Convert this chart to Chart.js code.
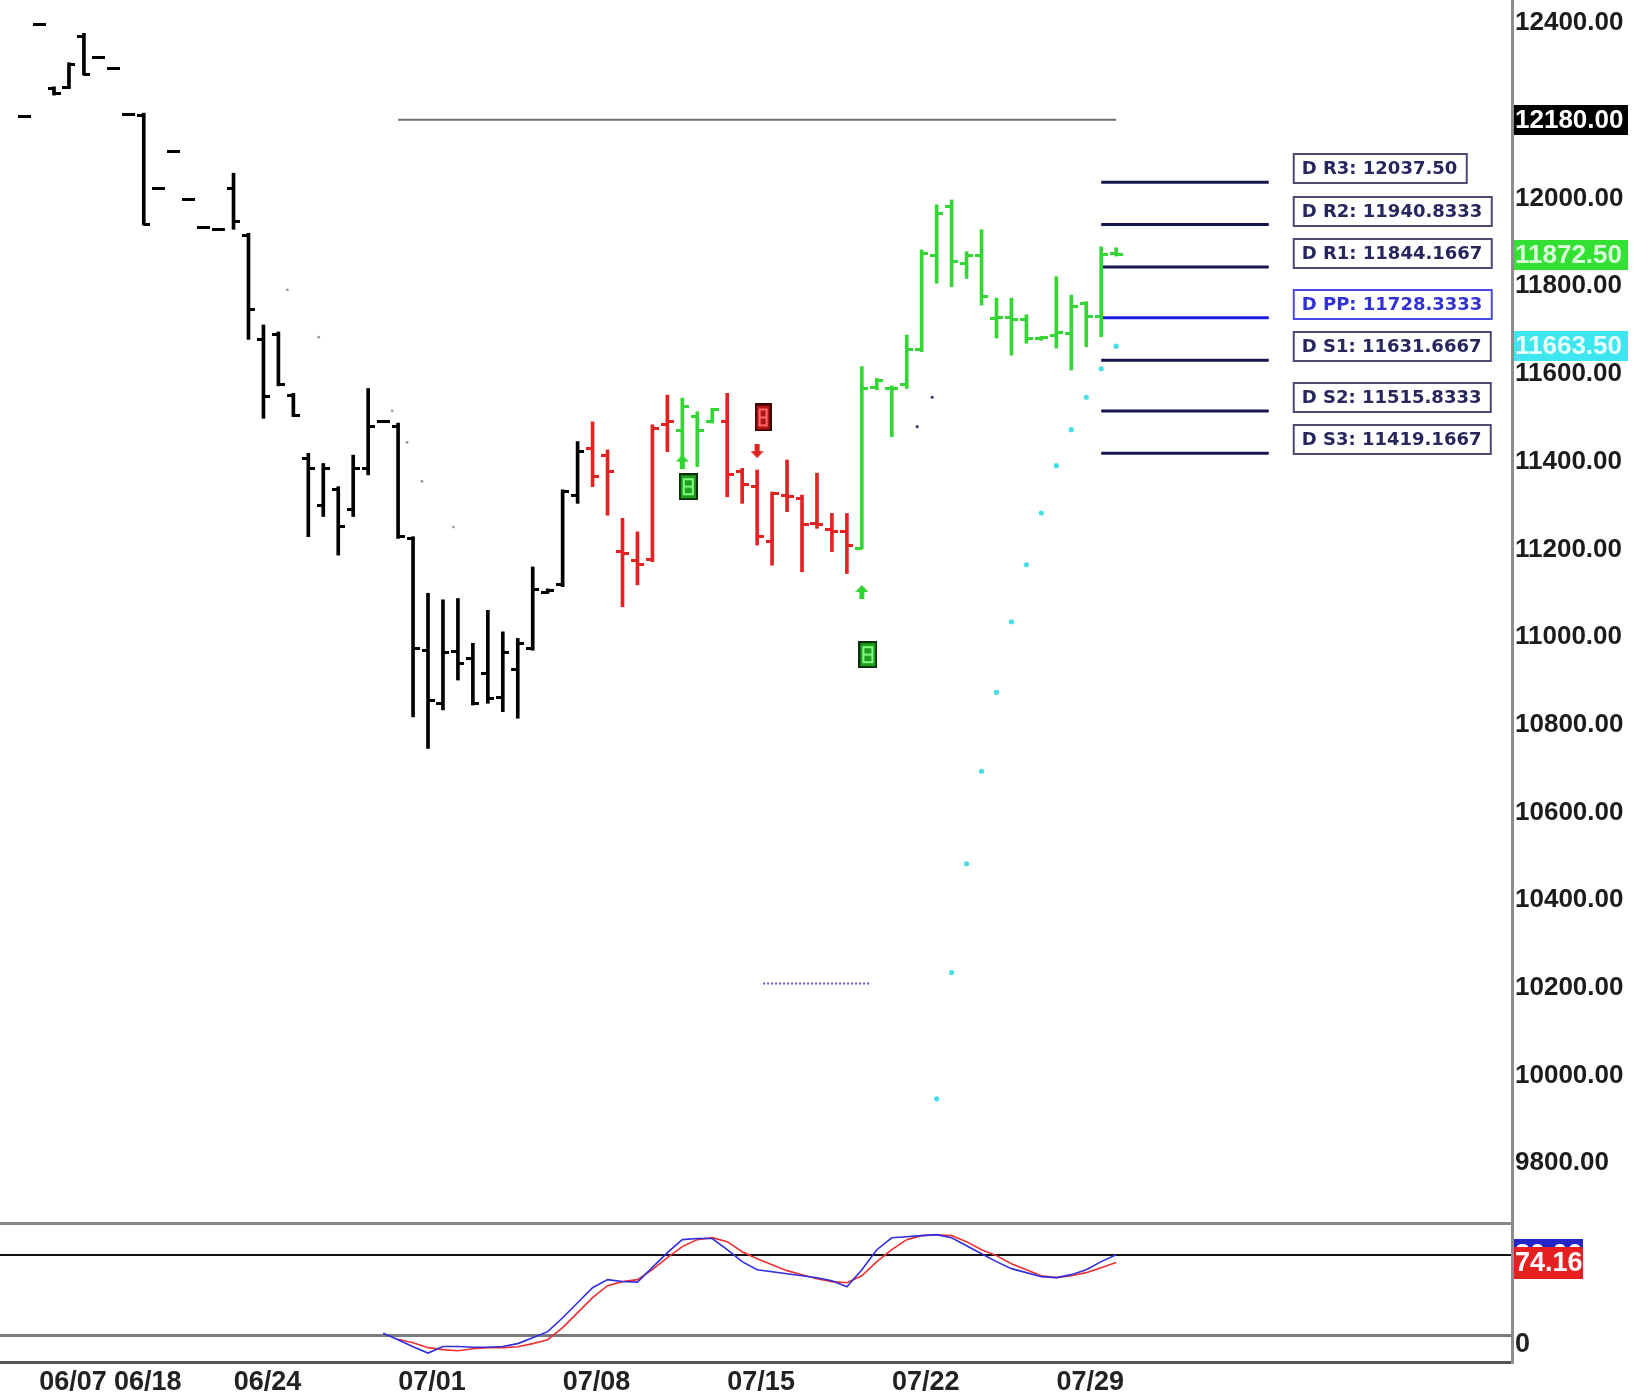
<!DOCTYPE html>
<html>
<head>
<meta charset="utf-8">
<script src="https://cdn.jsdelivr.net/npm/chart.js@4.4.1/dist/chart.umd.min.js"></script>
<style>
  html, body { margin: 0; padding: 0; background: #fff; }
  #wrap { position: relative; width: 1652px; height: 1393px; overflow: hidden; }
  #price { position: absolute; left: 0; top: 0; }
  #stoch { position: absolute; left: 0; top: 1222px; }
</style>
</head>
<body>
<div id="wrap">
  <canvas id="price" width="1652" height="1222"></canvas>
  <canvas id="stoch" width="1652" height="171"></canvas>
</div>
<script>
// ---- price bars (index 0..73) ----
const openVals  = [12188, 12396, 12252, 12254, 12370, 12322, 12297, 12192, 12190, 12022,
                   12107, 11998, 11935, 11930, 12023, 11917, 11679, 11690, 11552, 11408,
                   11301, 11336, 11290, 11385, 11491, 11480, 11225, 10970, 10849, 10966,
                   10952, 10917, 10863, 10925, 10974, 11102, 11119, 11324, 11431, 11415,
                   11195, 11175, 11176, 11485, 11472, 11503, 11491, 11491, 11377, 11343,
                   11218, 11324, 11316, 11260, 11245, 11240, 11203, 11570, 11568, 11575,
                   11655, 11871, 11982, 11853, 11871, 11727, 11730, 11725, 11680, 11688,
                   11693, 11760, 11731, 11875];
const highVals  = [12188, 12396, 12255, 12310, 12377, 12322, 12297, 12192, 12195, 12022,
                   12107, 11998, 11935, 11930, 12058, 11921, 11712, 11696, 11556, 11419,
                   11396, 11343, 11415, 11567, 11491, 11488, 11229, 11100, 11085, 11088,
                   10986, 11061, 11012, 10997, 11160, 11110, 11336, 11446, 11491, 11427,
                   11271, 11240, 11484, 11552, 11545, 11514, 11522, 11556, 11385, 11381,
                   11331, 11404, 11324, 11374, 11282, 11282, 11617, 11590, 11573, 11689,
                   11883, 11986, 11997, 11879, 11929, 11773, 11773, 11735, 11686, 11822,
                   11780, 11765, 11890, 11888];
const lowVals   = [12188, 12396, 12236, 12251, 12282, 12322, 12297, 12192, 11940, 12022,
                   12107, 11998, 11935, 11930, 11930, 11679, 11499, 11573, 11503, 11229,
                   11275, 11187, 11275, 11370, 11491, 11225, 10818, 10746, 10834, 10902,
                   10845, 10849, 10830, 10815, 10970, 11100, 11115, 11305, 11343, 11278,
                   11069, 11119, 11172, 11423, 11404, 11389, 11488, 11320, 11305, 11210,
                   11164, 11286, 11149, 11248, 11195, 11145, 11202, 11564, 11457, 11567,
                   11651, 11807, 11799, 11818, 11757, 11682, 11643, 11670, 11677, 11659,
                   11609, 11662, 11685, 11869];
const closeVals = [12188, 12396, 12240, 12305, 12284, 12322, 12297, 12192, 11942, 12022,
                   12107, 11998, 11935, 11930, 11947, 11746, 11548, 11575, 11505, 11385,
                   11385, 11252, 11385, 11480, 11491, 11229, 10974, 10856, 10964, 10940,
                   10849, 10860, 10964, 10986, 11109, 11106, 11331, 11423, 11366, 11377,
                   11191, 11165, 11476, 11492, 11525, 11472, 11518, 11370, 11347, 11229,
                   11328, 11320, 11256, 11256, 11240, 11210, 11567, 11585, 11567, 11655,
                   11875, 11967, 11856, 11871, 11776, 11730, 11725, 11681, 11683, 11695,
                   11755, 11731, 11872, 11872.5];
// bar colour code per bar: k = neutral, r = sell trend, g = buy trend
const barColors = ('k'.repeat(38) + 'r'.repeat(6) + 'g'.repeat(3) + 'r'.repeat(9) + 'g'.repeat(18)).split('');

// ---- parabolic SAR dots ----
const sarUpIdx = [61, 62, 63, 64, 65, 66, 67, 68, 69, 70, 71, 72, 73];
const sarUpVal = [9947, 10235, 10483, 10694, 10874, 11035, 11165, 11283, 11391, 11473, 11547, 11612, 11663.5];
const sarDownIdx = [17.6, 19.7, 24.6, 25.6, 26.6, 28.7];
const sarDownVal = [11792, 11684, 11516, 11444, 11355, 11251];
const sarFlipIdx = [59.7, 60.7];
const sarFlipVal = [11480, 11547];

// ---- signals ----
const upArrowIdx = [44, 56];
const upArrowVal = [11400, 11103];
const downArrowIdx = [49];
const downArrowVal = [11424];
const buyBoxIdx = [44.4, 56.4];
const buyBoxVal = [11343, 10960];
const sellBoxIdx = [49.4];
const sellBoxVal = [11501];

// ---- reference lines ----
const refLineIdx = [25, 73];
const refLineVal = 12180;
const dotLineIdx = [49.4, 56.5];
const dotLineVal = 10210;

// ---- daily pivots ----
const pivotNames = ['R3', 'R2', 'R1', 'PP', 'S1', 'S2', 'S3'];
const pivotText = ['12037.50', '11940.8333', '11844.1667', '11728.3333', '11631.6667', '11515.8333', '11419.1667'];
const pivotValues = pivotText.map(Number);
const pivotIdx = [72, 83.2];

// ---- axes ----
const yTickVals = [9800, 10000, 10200, 10400, 10600, 10800, 11000, 11200, 11400, 11600, 11800, 12000, 12400];
const xTickIdx = [3, 8, 16, 27, 38, 49, 60, 71];
const xTickText = ['06/07', '06/18', '06/24', '07/01', '07/08', '07/15', '07/22', '07/29'];

// ---- stochastic ----
const kStart = 24;
const kVals = [21.5, 16.6, 11.4, 6.7, 11.5, 11.5, 11.0, 11.0, 11.5, 13.7,
               18.0, 22.6, 33.0, 44.2, 55.4, 61.4, 60.0, 59.5, 70.5, 81.5,
               91.2, 92.0, 92.0, 83.7, 74.8, 68.8, 67.3, 65.8, 64.3, 62.8,
               60.6, 56.1, 68.8, 83.7, 92.6, 93.4, 94.2, 94.9, 92.6, 86.7,
               80.7, 74.8, 69.6, 66.6, 63.6, 62.9, 65.1, 68.8, 74.8, 80.0];
const dStart = 25;
const dVals = [17.0, 14.4, 10.7, 9.2, 8.4, 9.9, 10.7, 10.7, 11.4, 13.7,
               16.6, 25.6, 36.8, 48.0, 56.9, 59.9, 61.4, 68.8, 77.8, 86.0,
               91.2, 92.7, 89.7, 82.2, 77.0, 72.5, 68.1, 65.1, 62.1, 59.9,
               59.1, 64.3, 74.8, 83.7, 91.2, 94.2, 94.9, 94.2, 89.7, 83.7,
               79.3, 73.3, 68.8, 64.3, 62.9, 64.3, 66.6, 70.3, 74.16];
const stochLevels = [20, 80];

const COLORS = { k: '#000000', r: '#e42222', g: '#33d633' };
const X_MIN = -1.61, X_MAX = 99.46;
const AXIS_FONT = 'Liberation Sans, Arial, sans-serif';
const NARROW_FONT = '"Liberation Sans Narrow", "Arial Narrow", "Liberation Sans", Arial, sans-serif';

Chart.defaults.animation = false;
Chart.defaults.plugins.legend.display = false;
Chart.defaults.plugins.tooltip.enabled = false;

function tickImg(color, side) {
  const c = document.createElement('canvas');
  c.width = 13; c.height = 3;
  const g = c.getContext('2d');
  g.fillStyle = color;
  if (side === 'open') g.fillRect(0, 0, 7, 3); else g.fillRect(6, 0, 7, 3);
  return c;
}
const openImg = {}, closeImg = {};
Object.keys(COLORS).forEach(k => { openImg[k] = tickImg(COLORS[k], 'open'); closeImg[k] = tickImg(COLORS[k], 'close'); });

function boxImg(w, h, fill, edge, inner) {
  const c = document.createElement('canvas');
  c.width = w; c.height = h;
  const g = c.getContext('2d');
  g.fillStyle = edge; g.fillRect(0, 0, w, h);
  g.fillStyle = fill; g.fillRect(2, 2, w - 4, h - 4);
  g.strokeStyle = inner; g.lineWidth = 2;
  g.strokeRect(5, 6, w - 10, h - 12);
  g.beginPath(); g.moveTo(5, h / 2); g.lineTo(w - 5, h / 2); g.stroke();
  return c;
}
const buyImg = boxImg(19, 27, '#1f9e1f', '#0b2e0b', '#7dff7d');
const sellImg = boxImg(17, 28, '#b01414', '#3a0505', '#ff6a6a');

// small arrow with a stem; dir 1 = up, -1 = down
function arrowImg(color, dir) {
  const c = document.createElement('canvas');
  c.width = 13; c.height = 14;
  const g = c.getContext('2d');
  if (dir < 0) { g.translate(0, 14); g.scale(1, -1); }
  g.fillStyle = color;
  g.beginPath(); g.moveTo(6.5, 0); g.lineTo(13, 7); g.lineTo(0, 7); g.closePath(); g.fill();
  g.fillRect(4, 6, 5, 8);
  return c;
}
const upImg = arrowImg('#2fd42f', 1);
const downImg = arrowImg('#e22020', -1);

function pts(idx, vals) { return idx.map((x, j) => ({ x: x, y: Array.isArray(vals) ? vals[j] : vals })); }

const pivotSets = pivotNames.map((n, k) => ({
  type: 'line',
  data: pts(pivotIdx, pivotValues[k]),
  borderColor: n === 'PP' ? '#1c1ce0' : '#16164e',
  borderWidth: 3, pointRadius: 0
}));

const priceOverlay = {
  id: 'priceOverlay',
  afterDatasetsDraw(chart) {
    const { ctx, scales: { x, y } } = chart;
    ctx.save();
    ctx.font = 'bold 18px "DejaVu Sans", sans-serif';
    ctx.textBaseline = 'middle';
    ctx.textAlign = 'left';
    const left = x.getPixelForValue(pivotIdx[1]) + 25;
    pivotNames.forEach((n, k) => {
      const py = Math.round(y.getPixelForValue(pivotValues[k]));
      const text = 'D ' + n + ': ' + pivotText[k];
      const w = Math.round(ctx.measureText(text).width) + 17;
      const pp = n === 'PP';
      ctx.fillStyle = '#ffffff';
      ctx.fillRect(left, py - 28, w, 29);
      ctx.strokeStyle = pp ? '#4a4ae6' : '#4a4a72';
      ctx.lineWidth = 2;
      ctx.strokeRect(left, py - 28, w, 29);
      ctx.fillStyle = pp ? '#3232d2' : '#27275e';
      ctx.fillText(text, left + 8, py - 13);
    });
    ctx.restore();
  },
  afterDraw(chart) {
    const { ctx, chartArea, scales: { y } } = chart;
    const marks = [
      { v: refLineVal, bg: '#000000', fg: '#ffffff' },
      { v: closeVals[closeVals.length - 1], bg: '#35e035', fg: '#d8ffd8' },
      { v: sarUpVal[sarUpVal.length - 1], bg: '#3ee6ef', fg: '#e6ffff' }
    ];
    ctx.save();
    ctx.font = 'bold 26px ' + AXIS_FONT;
    ctx.textBaseline = 'middle';
    ctx.textAlign = 'left';
    marks.forEach(m => {
      const py = Math.round(y.getPixelForValue(m.v));
      ctx.fillStyle = m.bg;
      ctx.fillRect(chartArea.right + 2, py - 15, 114, 30);
      ctx.fillStyle = m.fg;
      ctx.fillText(m.v.toFixed(2), chartArea.right + 3, py + 1);
    });
    ctx.restore();
  }
};

new Chart(document.getElementById('price'), {
  type: 'line',
  data: {
    datasets: [
      {
        type: 'bar',
        data: highVals.map((h, i) => ({ x: i, y: [lowVals[i], h] })),
        backgroundColor: c => COLORS[barColors[c.dataIndex]],
        barThickness: 3, borderWidth: 0, grouped: false
      },
      {
        data: openVals.map((v, i) => ({ x: i, y: v })), showLine: false,
        pointStyle: c => openImg[barColors[c.dataIndex]], pointRadius: 6
      },
      {
        data: closeVals.map((v, i) => ({ x: i, y: v })), showLine: false,
        pointStyle: c => closeImg[barColors[c.dataIndex]], pointRadius: 6
      },
      { data: pts(refLineIdx, refLineVal), borderColor: '#6e6e6e', borderWidth: 2, pointRadius: 0 },
      { data: pts(dotLineIdx, dotLineVal), borderColor: '#5a5ad8', borderWidth: 2, borderDash: [2, 2], pointRadius: 0 },
      ...pivotSets,
      { data: pts(sarUpIdx, sarUpVal), showLine: false, pointRadius: 2.6, pointBorderWidth: 0, pointBackgroundColor: '#45dfe6' },
      { data: pts(sarDownIdx, sarDownVal), showLine: false, pointRadius: 1.4, pointBorderWidth: 0, pointBackgroundColor: '#9a9a9a' },
      { data: pts(sarFlipIdx, sarFlipVal), showLine: false, pointRadius: 1.6, pointBorderWidth: 0, pointBackgroundColor: '#3a3a70' },
      { data: pts(upArrowIdx, upArrowVal), showLine: false, pointStyle: upImg, pointRadius: 7 },
      { data: pts(downArrowIdx, downArrowVal), showLine: false, pointStyle: downImg, pointRadius: 7 },
      { data: pts(buyBoxIdx, buyBoxVal), showLine: false, pointStyle: buyImg, pointRadius: 10 },
      { data: pts(sellBoxIdx, sellBoxVal), showLine: false, pointStyle: sellImg, pointRadius: 10 }
    ]
  },
  options: {
    responsive: false,
    layout: { padding: 0, autoPadding: false },
    elements: { line: { tension: 0 } },
    scales: {
      x: { type: 'linear', display: false, offset: false, grid: { offset: false }, min: X_MIN, max: X_MAX },
      y: {
        position: 'right', min: 9666, max: 12453,
        grid: { display: false, drawTicks: false },
        border: { display: true, color: '#8c8c8c', width: 3 },
        afterBuildTicks: s => { s.ticks = yTickVals.map(v => ({ value: v })); },
        afterFit: s => { s.width = 140; s.paddingTop = 0; s.paddingBottom = 0; },
        ticks: {
          padding: 3, color: '#1c1c1c',
          font: { family: AXIS_FONT, weight: 'bold', size: 26, lineHeight: 0.05 },
          callback: v => Number(v).toFixed(2)
        }
      }
    }
  },
  plugins: [priceOverlay]
});

const stochOverlay = {
  id: 'stochOverlay',
  afterDraw(chart) {
    const { ctx, chartArea, scales: { y } } = chart;
    const marks = [
      { v: kVals[kVals.length - 1], bg: '#2525c8' },
      { v: dVals[dVals.length - 1], bg: '#e62020' }
    ];
    ctx.save();
    ctx.font = 'bold 27px ' + NARROW_FONT;
    ctx.textBaseline = 'middle';
    ctx.textAlign = 'left';
    marks.forEach(m => {
      const py = Math.round(y.getPixelForValue(m.v));
      ctx.fillStyle = m.bg;
      ctx.fillRect(chartArea.right + 2, py - 16, 69, 32);
      ctx.fillStyle = '#ffffff';
      ctx.fillText(m.v.toFixed(2), chartArea.right + 3, py + 1);
    });
    ctx.restore();
  }
};

const gridTicks = [0, ...stochLevels, 103.4];
const gridColor = { 0: '#555555', 20: '#7a7a7a', 80: '#111111', 103.4: '#8a8a8a' };
const gridWidth = { 0: 3, 20: 3, 80: 2, 103.4: 3 };

new Chart(document.getElementById('stoch'), {
  type: 'line',
  data: {
    datasets: [
      { data: kVals.map((v, j) => ({ x: kStart + j, y: v })), borderColor: '#2f2fe0', borderWidth: 1.6, pointRadius: 0 },
      { data: dVals.map((v, j) => ({ x: dStart + j, y: v })), borderColor: '#ee3030', borderWidth: 1.6, pointRadius: 0 }
    ]
  },
  options: {
    responsive: false,
    layout: { padding: 0, autoPadding: false },
    elements: { line: { tension: 0 } },
    scales: {
      x: {
        type: 'linear', min: X_MIN, max: X_MAX, offset: false,
        grid: { display: false, drawTicks: false },
        border: { display: false },
        afterBuildTicks: s => { s.ticks = xTickIdx.map(v => ({ value: v })); },
        afterFit: s => { s.height = 31; s.paddingLeft = 0; s.paddingRight = 0; },
        ticks: {
          autoSkip: false, maxRotation: 0, minRotation: 0, padding: 4, labelOffset: 4,
          color: '#222222',
          font: { family: NARROW_FONT, weight: 'bold', size: 27 },
          callback: (v, i) => xTickText[i]
        }
      },
      y: {
        position: 'right', min: 0, max: 104.35,
        grid: {
          drawTicks: false,
          color: c => gridColor[c.tick.value],
          lineWidth: c => gridWidth[c.tick.value]
        },
        border: { display: true, color: '#8c8c8c', width: 3 },
        afterBuildTicks: s => { s.ticks = gridTicks.map(v => ({ value: v })); },
        afterFit: s => { s.width = 140; s.paddingTop = 0; s.paddingBottom = 0; },
        ticks: {
          padding: 3, labelOffset: -17, color: '#222222',
          font: { family: NARROW_FONT, weight: 'bold', size: 27 },
          callback: v => (v === 0 ? '0' : '')
        }
      }
    }
  },
  plugins: [stochOverlay]
});
</script>
</body>
</html>
